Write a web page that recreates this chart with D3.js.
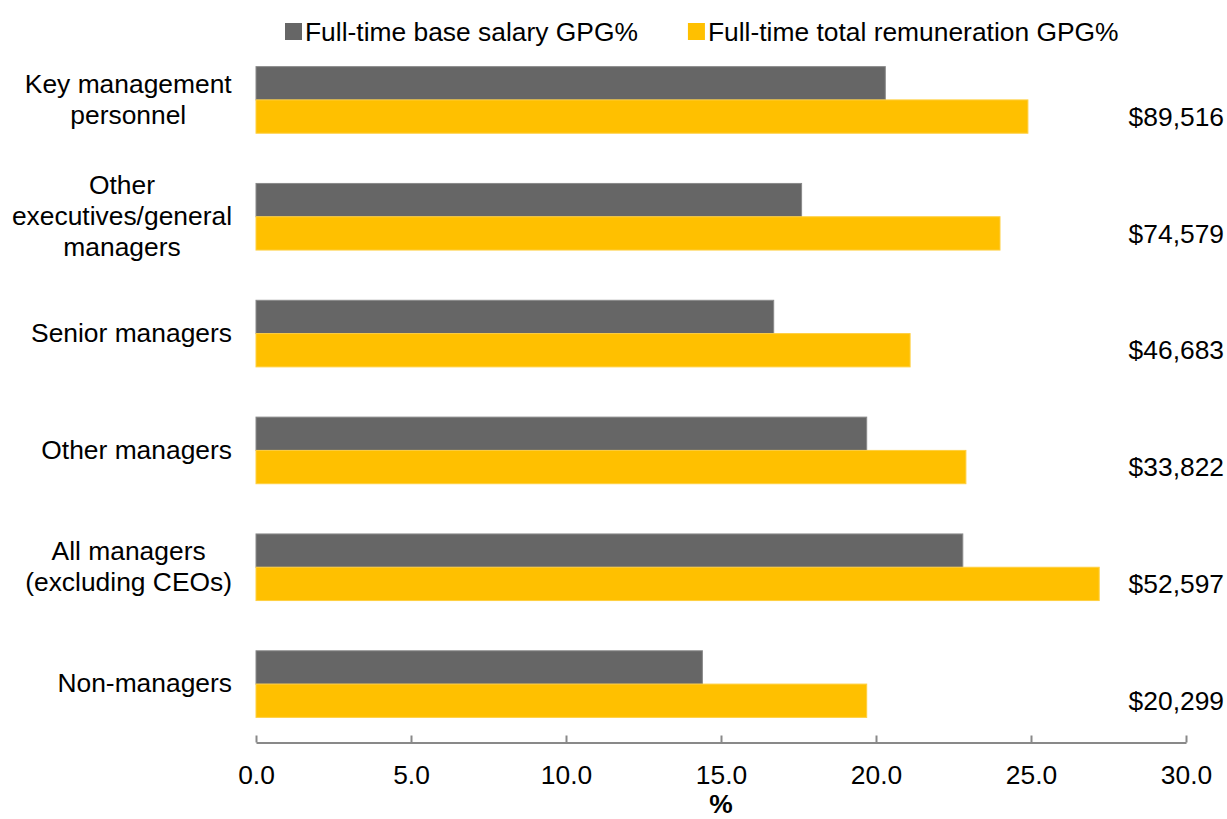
<!DOCTYPE html>
<meta charset="utf-8">
<script src="https://d3js.org/d3.v7.min.js"></script>
<style>
  body { margin: 0; background: #fff; }
  svg text { font-family: "Liberation Sans", Arial, sans-serif; fill: #000; }
</style>
<div id="chart"></div>
<script>

// data
var categories = [
  ["Key management", "personnel"],
  ["Other", "executives/general", "managers"],
  ["Senior managers"],
  ["Other managers"],
  ["All managers", "(excluding CEOs)"],
  ["Non-managers"]
]
var baseSalary = [20.3, 17.6, 16.7, 19.7, 22.8, 14.4]
var totalRem = [24.9, 24.0, 21.1, 22.9, 27.2, 19.7]
var dollarGap = ["$89,516", "$74,579", "$46,683", "$33,822", "$52,597", "$20,299"]
var seriesNames = ["Full-time base salary GPG%", "Full-time total remuneration GPG%"]
var xTicks = [0, 5, 10, 15, 20, 25, 30]

var width = 1227, height = 819
var fontSize = 26.4
var colors = ["#666666", "#FFC000"]

var svg = d3.select("#chart").append("svg")
  .attr("width", width)
  .attr("height", height)

var x = d3.scaleLinear()
  .domain([0, 30])
  .range([256, 1186])

var y = d3.scaleBand()
  .domain(d3.range(categories.length))
  .range([41.5, 742.5])
  .paddingInner(0.43)
  .paddingOuter(0.215)

var ySub = d3.scaleBand()
  .domain([0, 1])
  .range([0, y.bandwidth()])

// bars
var rows = categories.map(function(c, i) {
  return {i: i, values: [baseSalary[i], totalRem[i]]}
})

var groups = svg.append("g").selectAll("g")
  .data(rows)
  .enter()
  .append("g")
  .attr("transform", function(d) { return "translate(0," + y(d.i) + ")" })

groups.selectAll("rect")
  .data(function(d) { return d.values })
  .enter()
  .append("rect")
  .attr("x", x(0))
  .attr("y", function(d, j) { return ySub(j) })
  .attr("width", function(d) { return x(d) - x(0) })
  .attr("height", ySub.bandwidth())
  .attr("fill", function(d, j) { return colors[j] })
  .attr("stroke", function(d, j) { return j === 0 ? "#8a8a8a" : "#ffcf40" })
  .attr("stroke-width", 1)

// category labels, centred block right aligned at the axis
groups.each(function(d) {
  var g = d3.select(this)
  var lines = categories[d.i]
  var t = g.append("text")
    .attr("text-anchor", "middle")
    .style("font-size", fontSize + "px")
  lines.forEach(function(l, k) {
    t.append("tspan")
      .attr("x", 0)
      .attr("y", y.bandwidth() / 2 - 1 + (k - (lines.length - 1) / 2) * 31)
      .attr("dy", "0.35em")
      .text(l)
  })
  var w = t.node().getBBox().width
  t.attr("transform", "translate(" + (232 - w / 2) + ",0)")
})

// dollar gap labels on the right
groups.append("text")
  .attr("x", 1224)
  .attr("y", ySub(1) + ySub.bandwidth() / 2)
  .attr("dy", "0.35em")
  .attr("text-anchor", "end")
  .style("font-size", fontSize + "px")
  .text(function(d) { return dollarGap[d.i] })

// x axis
var axis = svg.append("g")
  .attr("transform", "translate(0,742.5)")
  .call(d3.axisBottom(x).tickValues(xTicks).tickSizeInner(-7).tickSizeOuter(0)
    .tickFormat(d3.format(".1f")))

axis.select(".domain").attr("stroke", "#898989").attr("stroke-width", 2)
axis.selectAll(".tick line").attr("stroke", "#898989").attr("stroke-width", 2)
axis.selectAll(".tick text")
  .attr("y", 32)
  .attr("dy", "0.35em")
  .style("font-size", fontSize + "px")
  .style("font-family", '"Liberation Sans", Arial, sans-serif')
  .attr("fill", "#000")

svg.append("text")
  .attr("x", x(15))
  .attr("y", 813)
  .attr("text-anchor", "middle")
  .style("font-size", fontSize + "px")
  .style("font-weight", "bold")
  .text("%")

// legend
var legend = svg.append("g")
var lx = 285
seriesNames.forEach(function(name, j) {
  legend.append("rect")
    .attr("x", lx)
    .attr("y", 23)
    .attr("width", 17)
    .attr("height", 17)
    .attr("fill", colors[j])
  var t = legend.append("text")
    .attr("x", lx + 20)
    .attr("y", 31.5)
    .attr("dy", "0.35em")
    .style("font-size", fontSize + "px")
    .text(name)
  lx = lx + 20 + t.node().getComputedTextLength() + 50
})

</script>
